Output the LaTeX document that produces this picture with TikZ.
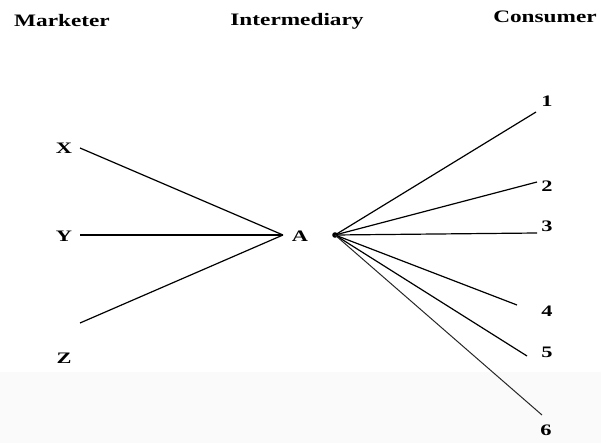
\documentclass[tikz,border=0pt]{standalone}
\usepackage{fontspec}
\setmainfont{Liberation Serif}
\begin{document}
\begin{tikzpicture}[x=1pt,y=-1pt,
  head/.style={font=\fontsize{17.5}{17.5}\selectfont\bfseries, xscale=1.33, inner sep=0pt},
  lbl/.style={font=\fontsize{16}{16}\selectfont\bfseries, xscale=1.4, inner sep=0pt},
  link/.style={line width=1.2pt, black}]
\useasboundingbox (0,0) rectangle (601,443);
\fill[black!2] (0,372) rectangle (601,443);
% headers
\node[head] (mk) at (62,21) {Marketer};
\node[head] (im) at (297,21) {Intermediary};
\node[head] (cs) at (545,17) {Consumer};
% left labels
\node[lbl] (X) at (64,148) {X};
\node[lbl] (Y) at (64,236) {Y};
\node[lbl] (Z) at (64,358) {Z};
\node[lbl] (A) at (300,236) {A};
\coordinate (x0) at (80,148);
\coordinate (y0) at (80,235);
\coordinate (z0) at (80,323);
\coordinate (pA) at (283,235);
\draw[link] (x0) -- (pA);
\draw[link] (y0) -- (pA);
\draw[link] (z0) -- (pA);
% hub
\fill (335,235) circle (2.8) coordinate (hub);
\coordinate (e1) at (536,112);
\coordinate (e2) at (537,182);
\coordinate (e3) at (537,233);
\coordinate (e4) at (517,305);
\coordinate (e5) at (527,356);
\coordinate (e6) at (542,415);
\draw[link] (hub) -- (e1);
\draw[link] (hub) -- (e2);
\draw[link] (hub) -- (e3);
\draw[link] (hub) -- (e4);
\draw[link] (hub) -- (e5);
\draw[line width=1pt, black!85] (hub) -- (e6);
% consumer labels
\node[lbl] (n1) at (547,101) {1};
\node[lbl] (n2) at (547,186) {2};
\node[lbl] (n3) at (547,226) {3};
\node[lbl] (n4) at (547,311) {4};
\node[lbl] (n5) at (547,352) {5};
\node[lbl] (n6) at (546,430) {6};
\end{tikzpicture}
\end{document}
